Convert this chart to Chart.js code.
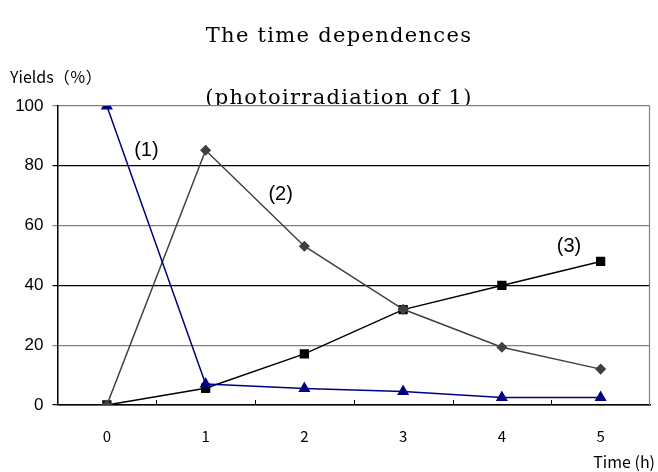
<!DOCTYPE html>
<html>
<head>
<meta charset="utf-8">
<script src="https://cdn.jsdelivr.net/npm/chart.js@4"></script>
<style>
  html, body { margin: 0; padding: 0; background: #fff; }
  #wrap { width: 658px; height: 472px; }
</style>
</head>
<body>
<div id="wrap"><canvas id="myChart" width="658" height="472"></canvas></div>
<script>
  // data
  const times = ['0', '1', '2', '3', '4', '5'];
  const series1 = [100, 7, 5.5, 4.5, 2.5, 2.5];
  const series2 = [0, 85.2, 53.1, 32, 19.3, 12];
  const series3 = [0, 5.6, 17.1, 31.9, 40, 48];
  const seriesNames = ['(1)', '(2)', '(3)'];
  // where the (n) labels sit, in data units: [category index, value]
  const labelSpots = [[0.4, 85], [1.76, 70.5], [4.68, 53]];

  const titleLines = ['The time dependences', '(photoirradiation of 1)'];
  const yTitle = 'Yields（％）';
  const xTitle = 'Time (h)';

  const extras = {
    id: 'extras',
    afterDraw(chart) {
      const c = chart.ctx, a = chart.chartArea;
      const x = chart.scales.x, y = chart.scales.y;
      c.save();
      // right border
      c.strokeStyle = '#808080';
      c.lineWidth = 1.2;
      c.beginPath();
      c.moveTo(a.right - 0.5, a.top);
      c.lineTo(a.right - 0.5, a.bottom);
      c.stroke();
      // small inward ticks on the x axis, between categories
      c.strokeStyle = '#000';
      c.lineWidth = 1;
      const step = x.getPixelForValue(1) - x.getPixelForValue(0);
      for (let i = 0; i < times.length - 1; i++) {
        const px = Math.round(x.getPixelForValue(i) + step / 2) + 0.5;
        c.beginPath();
        c.moveTo(px, a.bottom);
        c.lineTo(px, a.bottom - 5);
        c.stroke();
      }
      // titles (second line is cut by the plot top like in the original)
      c.fillStyle = '#000';
      c.textAlign = 'center';
      c.textBaseline = 'middle';
      c.font = '21px "DejaVu Serif"';
      c.letterSpacing = '1.3px';
      c.fillText(titleLines[0], 339, 37);
      c.save();
      c.beginPath();
      c.rect(0, 0, 658, a.top - 1);
      c.clip();
      c.fillText(titleLines[1], 339, 99);
      c.restore();
      c.letterSpacing = '0px';
      c.font = '16px "Noto Sans CJK JP"';
      c.textAlign = 'left';
      c.fillText(yTitle, 10, 77);
      c.textAlign = 'right';
      c.fillText(xTitle, 655, 462);
      // series labels
      c.font = '20px "Liberation Sans"';
      c.textAlign = 'center';
      labelSpots.forEach((s, i) => {
        c.fillText(seriesNames[i], x.getPixelForValue(s[0]), y.getPixelForValue(s[1]));
      });
      c.restore();
    }
  };

  const ctx = document.getElementById('myChart');
  const myChart = new Chart(ctx, {
    type: 'line',
    data: {
      labels: times,
      datasets: [
        { label: seriesNames[0], data: series1, borderColor: '#000080', backgroundColor: '#000080',
          borderWidth: 1.5, pointStyle: 'triangle', pointRadius: 5.5 },
        { label: seriesNames[1], data: series2, borderColor: '#404040', backgroundColor: '#404040',
          borderWidth: 1.5, pointStyle: 'rectRot', pointRadius: 4.5 },
        { label: seriesNames[2], data: series3, borderColor: '#000', backgroundColor: '#000',
          borderWidth: 1.5, pointStyle: 'rect', pointRadius: 5.5 }
      ]
    },
    options: {
      responsive: false,
      animation: false,
      layout: { padding: { top: 106, left: 4, right: 8, bottom: 0 } },
      plugins: { legend: { display: false }, tooltip: { enabled: false } },
      scales: {
        x: {
          offset: true,
          grid: { display: false },
          border: { color: '#000', width: 1.5 },
          ticks: { color: '#000', font: { family: 'Noto Sans CJK JP', size: 15 }, padding: 14 },
          afterFit: (s) => { s.height = 67; }
        },
        y: {
          min: 0, max: 100,
          ticks: { stepSize: 20, color: '#000', font: { family: 'Liberation Sans', size: 17 }, padding: 9 },
          grid: {
            color: (c) => (c.tick && c.tick.value % 40 === 0) ? '#000' : '#808080',
            lineWidth: 1.2, tickLength: 5
          },
          border: { color: '#000', width: 1.5 },
          afterFit: (s) => { s.width = 53.5; }
        }
      }
    },
    plugins: [extras]
  });
</script>
</body>
</html>
